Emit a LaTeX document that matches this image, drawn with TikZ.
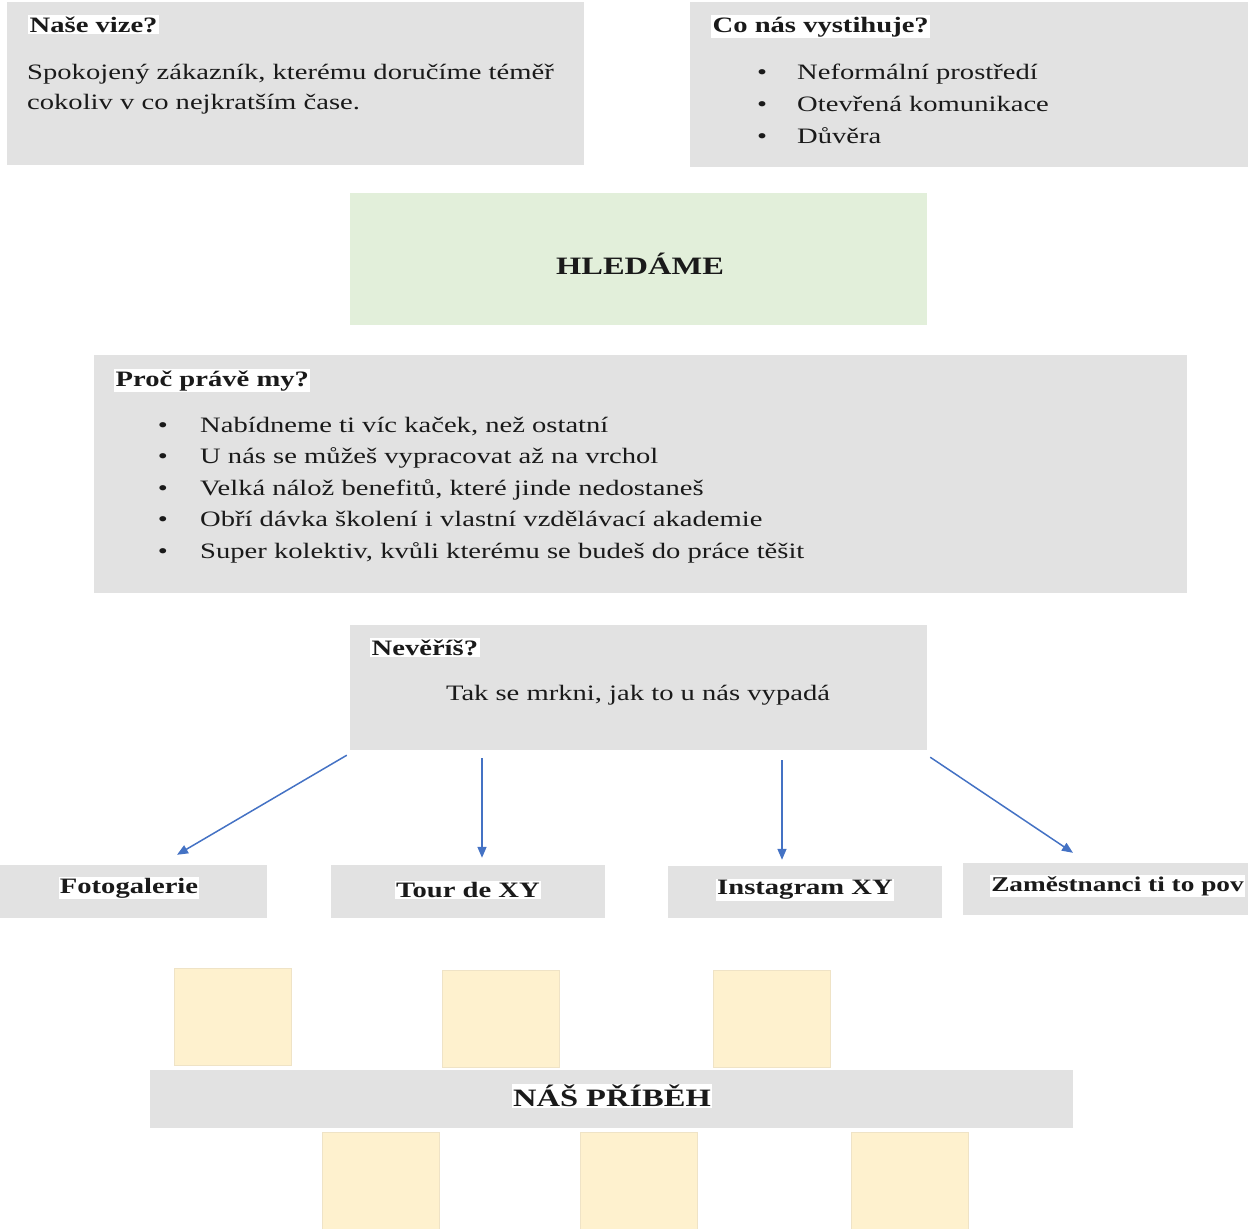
\documentclass[tikz,border=0pt]{standalone}
\usepackage{fontspec}
\setmainfont{Liberation Serif}[FakeStretch=1.3]
\usetikzlibrary{arrows.meta}
\definecolor{boxgray}{HTML}{E2E2E2}
\definecolor{boxgreen}{HTML}{E2EFDA}
\definecolor{boxyellow}{HTML}{FEF1CE}
\definecolor{yellowline}{HTML}{EFE3C6}
\definecolor{arrowblue}{HTML}{4472C4}
\definecolor{txt}{HTML}{1A1A1A}
\tikzset{
  graybox/.style={rectangle, fill=boxgray, draw=none, inner sep=0pt},
  greenbox/.style={rectangle, fill=boxgreen, draw=none, inner sep=0pt},
  ybox/.style={rectangle, fill=boxyellow, draw=yellowline, line width=0.8pt, inner sep=0pt, minimum width=117pt, minimum height=97pt},
  title/.style={anchor=base west, inner sep=1.5pt, fill=white, text=txt, font=\fontsize{22}{26}\selectfont\bfseries},
  body/.style={anchor=base west, inner sep=0pt, text=txt, font=\fontsize{22}{26}\selectfont},
  bul/.style={anchor=base, inner sep=0pt, text=txt, font=\fontsize{22}{26}\selectfont},
  label/.style={inner sep=1pt, fill=white, text=txt, font=\fontsize{22}{26}\selectfont\bfseries},
  big/.style={inner sep=1pt, text=txt, font=\fontsize{25}{30}\selectfont\bfseries},
  arr/.style={draw=arrowblue, line width=1.5pt, -{Triangle[length=11pt,width=9pt]}}
}
\begin{document}
\begin{tikzpicture}[x=1pt,y=-1pt]
\clip (0,0) rectangle (1248,1229);
\useasboundingbox (0,0) rectangle (1248,1229);

% top boxes
\node[graybox, minimum width=577pt, minimum height=163pt] (vize) at (295.5,83.5) {};
\node[title] (vizeT) at (28,32) {Naše vize?};
\node[body] (vize1) at (27,79) {Spokojený zákazník, kterému doručíme téměř};
\node[body] (vize2) at (27,109) {cokoliv v co nejkratším čase.};

\node[graybox, minimum width=560pt, minimum height=165pt] (vyst) at (970,84.5) {};
\node[title] (vystT) at (711,32) {Co nás vystihuje?};
\node[bul] (vb1) at (762,79) {\textbullet};
\node[body] (vt1) at (797,79) {Neformální prostředí};
\node[bul] (vb2) at (762,111) {\textbullet};
\node[body] (vt2) at (797,111) {Otevřená komunikace};
\node[bul] (vb3) at (762,143) {\textbullet};
\node[body] (vt3) at (797,143) {Důvěra};

% HLEDAME
\node[greenbox, minimum width=577pt, minimum height=132pt] (hled) at (638.5,259) {};
\node[big] (hledT) at (640,264) {HLEDÁME};

% Proc prave my
\node[graybox, minimum width=1093pt, minimum height=238pt] (proc) at (640.5,474) {};
\node[title] (procT) at (114,386) {Proč právě my?};
\node[bul] (pb1) at (163,432) {\textbullet};
\node[body] (pt1) at (200,432) {Nabídneme ti víc kaček, než ostatní};
\node[bul] (pb2) at (163,463) {\textbullet};
\node[body] (pt2) at (200,463) {U nás se můžeš vypracovat až na vrchol};
\node[bul] (pb3) at (163,495) {\textbullet};
\node[body] (pt3) at (200,495) {Velká nálož benefitů, které jinde nedostaneš};
\node[bul] (pb4) at (163,526) {\textbullet};
\node[body] (pt4) at (200,526) {Obří dávka školení i vlastní vzdělávací akademie};
\node[bul] (pb5) at (163,558) {\textbullet};
\node[body] (pt5) at (200,558) {Super kolektiv, kvůli kterému se budeš do práce těšit};

% Neveris
\node[graybox, minimum width=577pt, minimum height=125pt] (nev) at (638.5,687.5) {};
\node[title] (nevT) at (370,655) {Nevěříš?};
\node[body, anchor=base] (nev1) at (638,700) {Tak se mrkni, jak to u nás vypadá};

% link boxes
\node[graybox, minimum width=267pt, minimum height=53pt] (foto) at (133.5,891.5) {};
\node[label] (fotoT) at (129,888) {Fotogalerie};
\node[graybox, minimum width=274pt, minimum height=53pt] (tour) at (468,891.5) {};
\node[label] (tourT) at (468,890) {Tour de XY};
\node[graybox, minimum width=274pt, minimum height=52pt] (inst) at (805,892) {};
\node[label] (instT) at (805,890) {Instagram XY};
\node[graybox, minimum width=285pt, minimum height=52pt] (zam) at (1105.5,889) {};
\node[label, anchor=east, font=\fontsize{21}{25}\selectfont\bfseries] (zamT) at (1245,886) {Zaměstnanci ti to pov};

% arrows
\draw[arr] ([shift={(-3,5)}]nev.south west) -- ([shift={(43.5,-10)}]foto.north);
\draw[arr] ([shift={(-156.5,8)}]nev.south) -- ([shift={(14,-7)}]tour.north);
\draw[arr] ([shift={(143.5,10)}]nev.south) -- ([shift={(-23,-6)}]inst.north);
\draw[arr] ([shift={(3,7)}]nev.south east) -- ([shift={(-32.5,-10)}]zam.north);

% story
\node[ybox] (y1) at (232.5,1016.5) {};
\node[ybox] (y2) at (500.5,1018.5) {};
\node[ybox] (y3) at (771.5,1018.5) {};
\node[graybox, minimum width=923pt, minimum height=58pt] (story) at (611.5,1099) {};
\node[big, fill=white] (storyT) at (612,1096) {NÁŠ PŘÍBĚH};
\node[ybox] (y4) at (381,1181) {};
\node[ybox] (y5) at (638.5,1181) {};
\node[ybox] (y6) at (909.5,1181) {};
\end{tikzpicture}
\end{document}
